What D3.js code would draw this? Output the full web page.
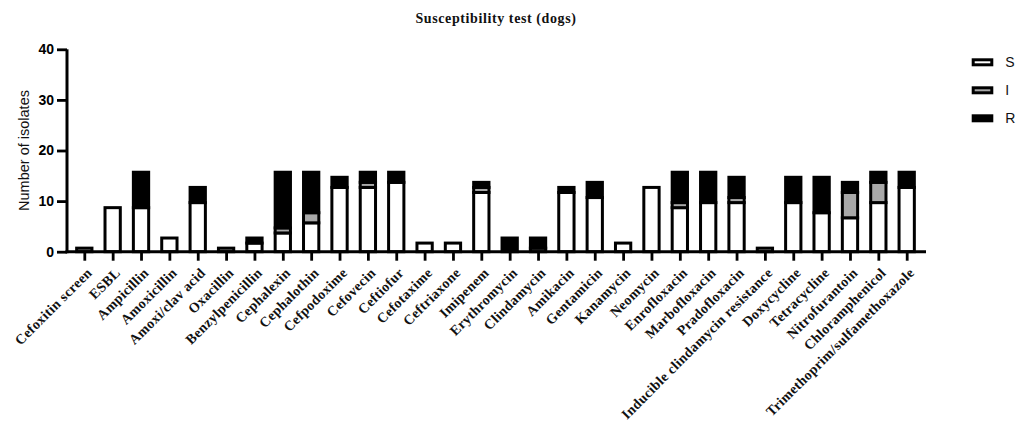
<!DOCTYPE html>
<html>
<head>
<meta charset="utf-8">
<script src="https://cdn.jsdelivr.net/npm/d3@7"></script>
<style>
  html, body { margin: 0; padding: 0; background: #fff; }
  svg { display: block; }
</style>
</head>
<body>
<svg id="chart" width="1019" height="421"></svg>
<script>
// Antimicrobial susceptibility results for canine isolates
const categories = [
  "Cefoxitin screen", "ESBL", "Ampicillin", "Amoxicillin", "Amoxi/clav acid",
  "Oxacillin", "Benzylpenicillin", "Cephalexin", "Cephalothin", "Cefpodoxime",
  "Cefovecin", "Ceftiofur", "Cefotaxime", "Ceftriaxone", "Imipenem",
  "Erythromycin", "Clindamycin", "Amikacin", "Gentamicin", "Kanamycin",
  "Neomycin", "Enrofloxacin", "Marbofloxacin", "Pradofloxacin",
  "Inducible clindamycin resistance", "Doxycycline", "Tetracycline",
  "Nitrofurantoin", "Chloramphenicol", "Trimethoprim/sulfamethoxazole"
];
// Susceptible
const susceptible   = [0, 9, 9, 3, 10, 0, 2, 4, 6, 13, 13, 14, 2, 2, 12, 0, 0, 12, 11, 2, 13, 9, 10, 10, 0, 10, 8, 7, 10, 13];
// Intermediate
const intermediate  = [1, 0, 0, 0, 0, 1, 0, 1, 2, 0, 1, 0, 0, 0, 1, 0, 1, 0, 0, 0, 0, 1, 0, 1, 1, 0, 0, 5, 4, 0];
// Resistant
const resistant     = [0, 0, 7, 0, 3, 0, 1, 11, 8, 2, 2, 2, 0, 0, 1, 3, 2, 1, 3, 0, 0, 6, 6, 4, 0, 5, 7, 2, 2, 3];

const seriesKeys = ["S", "I", "R"];
const seriesColors = { S: "#ffffff", I: "#a8a8a8", R: "#000000" };
const yTicks = [0, 10, 20, 30, 40];

const rows = categories.map((c, i) => ({
  category: c, S: susceptible[i], I: intermediate[i], R: resistant[i]
}));

const svg = d3.select("#chart");
const axisLeft = 67, axisRight = 926;

const x = d3.scalePoint().domain(categories).range([84.3, 906.7]);
const y = d3.scaleLinear().domain([0, 40]).range([251.7, 49.3]);
const color = d3.scaleOrdinal().domain(seriesKeys).range(seriesKeys.map(k => seriesColors[k]));

const barOuter = x.step() * 0.645;
const sw = 3;

const stacked = d3.stack().keys(seriesKeys)(rows);

// Stacked bars: each segment gets a heavy black outline
const layers = svg.append("g").selectAll("g")
  .data(stacked).join("g")
  .attr("fill", d => color(d.key));

layers.selectAll("rect")
  .data(d => d.filter(s => s[1] - s[0] > 0))
  .join("rect")
  .attr("x", d => x(d.data.category) - barOuter / 2 + sw / 2)
  .attr("width", barOuter - sw)
  .attr("y", d => y(d[1]) + sw / 2)
  .attr("height", d => {
    const bottom = d[0] === 0 ? y(0) : y(d[0]) + sw / 2;
    return Math.max(0, bottom - (y(d[1]) + sw / 2));
  })
  .attr("stroke", "#000")
  .attr("stroke-width", sw);

// Y axis
const gy = svg.append("g")
  .attr("transform", `translate(${axisLeft},0)`)
  .call(d3.axisLeft(y).tickValues(yTicks).tickSize(10).tickPadding(3).tickSizeOuter(0));
gy.select(".domain").attr("stroke-width", 3).attr("d", `M0,${y(0) + 1.5}V${y(40)}`);
gy.selectAll(".tick line").attr("stroke-width", 2.8);
gy.selectAll(".tick text")
  .attr("font-family", "Liberation Sans, Arial, sans-serif")
  .attr("font-weight", "bold")
  .attr("font-size", 14)
  .attr("fill", "#000");

// X axis
const gx = svg.append("g")
  .attr("transform", `translate(0,${y(0)})`)
  .call(d3.axisBottom(x).tickSize(9).tickSizeOuter(0));
gx.select(".domain").attr("stroke-width", 3).attr("d", `M${axisLeft - 1.5},0H${axisRight}`);
gx.selectAll(".tick line").attr("stroke-width", 2.8);
gx.selectAll(".tick text")
  .attr("font-family", "Liberation Serif, Times New Roman, serif")
  .attr("font-weight", "bold")
  .attr("font-size", 14)
  .attr("letter-spacing", 0.35)
  .attr("fill", "#111")
  .attr("text-anchor", "end")
  .attr("dy", null)
  .attr("y", 0)
  .attr("transform", "translate(8,22) rotate(-45)");

// Y axis title
svg.append("text")
  .attr("transform", `translate(28.5,${y(20)}) rotate(-90)`)
  .attr("text-anchor", "middle")
  .attr("font-family", "Liberation Sans, Arial, sans-serif")
  .attr("font-size", 14.5)
  .attr("fill", "#111")
  .text("Number of isolates");

// Chart title
svg.append("text")
  .attr("x", 496)
  .attr("y", 23)
  .attr("text-anchor", "middle")
  .attr("font-family", "Liberation Serif, Times New Roman, serif")
  .attr("font-weight", "bold")
  .attr("font-size", 14)
  .attr("letter-spacing", 0.6)
  .attr("fill", "#111")
  .text("Susceptibility test (dogs)");

// Legend
const legend = svg.append("g").selectAll("g")
  .data(seriesKeys).join("g")
  .attr("transform", (d, i) => `translate(971.7,${62.3 + i * 28})`);
legend.append("rect")
  .attr("x", sw / 2).attr("y", -4 + sw / 2)
  .attr("width", 21.6 - sw).attr("height", 8 - sw)
  .attr("fill", d => color(d))
  .attr("stroke", "#000").attr("stroke-width", sw);
legend.append("text")
  .attr("x", 33.5).attr("y", 0).attr("dy", "0.36em")
  .attr("font-family", "Liberation Sans, Arial, sans-serif")
  .attr("font-size", 14)
  .attr("fill", "#111")
  .text(d => d);
</script>
</body>
</html>
